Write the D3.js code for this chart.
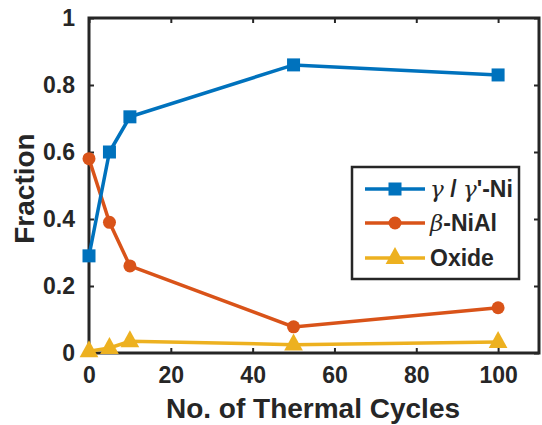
<!DOCTYPE html>
<meta charset="utf-8">
<style>
body { margin: 0; background: #fff; }
text { font-family: "Liberation Sans", Arial, Helvetica, sans-serif; font-weight: bold; fill: #262626; }
</style>
<svg width="542" height="425"></svg>
<script src="https://cdn.jsdelivr.net/npm/d3@7"></script>
<script>

// data
var cycles = [0, 5, 10, 50, 100];
var gammaNi = [0.29, 0.60, 0.705, 0.86, 0.83];
var betaNiAl = [0.58, 0.39, 0.26, 0.078, 0.135];
var oxide = [0.005, 0.015, 0.035, 0.025, 0.033];

var xTicks = [0, 20, 40, 60, 80, 100];
var yTicks = [0, 0.2, 0.4, 0.6, 0.8, 1];

var blue = "#0072BD", orange = "#D95319", yellow = "#EDB120";

var svg = d3.select("svg");
// plot box (window.top is reserved, so use plot_* names)
var plot_left = 89, plot_right = 539, plot_top = 18, plot_bottom = 353;

var x = d3.scaleLinear().domain([0, 110]).range([plot_left, plot_right]);
var y = d3.scaleLinear().domain([0, 1]).range([plot_bottom, plot_top]);

// axes, ticks pointing inward, box on
function styleAxis(g) {
  g.select(".domain").remove();
  g.selectAll("line").attr("stroke", "#262626").attr("stroke-width", 2);
  g.selectAll("text").style("font-size", "23px").attr("fill", "#262626");
}

svg.append("g").attr("transform", "translate(0," + plot_bottom + ")")
   .call(d3.axisBottom(x).tickValues(xTicks).tickSizeInner(-5).tickPadding(14).tickFormat(d3.format("d")))
   .call(styleAxis);
svg.append("g").attr("transform", "translate(0," + plot_top + ")")
   .call(d3.axisTop(x).tickValues(xTicks).tickSizeInner(-5).tickFormat(""))
   .call(styleAxis);
svg.append("g").attr("transform", "translate(" + plot_left + ",0)")
   .call(d3.axisLeft(y).tickValues(yTicks).tickSizeInner(-5).tickPadding(14).tickFormat(function(d) { return d == 0 || d == 1 ? d : d.toFixed(1); }))
   .call(styleAxis);
svg.append("g").attr("transform", "translate(" + plot_right + ",0)")
   .call(d3.axisRight(y).tickValues(yTicks).tickSizeInner(-5).tickFormat(""))
   .call(styleAxis);

svg.append("rect")
   .attr("x", plot_left).attr("y", plot_top)
   .attr("width", plot_right - plot_left).attr("height", plot_bottom - plot_top)
   .style("fill", "none").style("stroke", "#262626").style("stroke-width", 3);

// axis labels
svg.append("text")
   .attr("x", (plot_left + plot_right) / 2 - 1).attr("y", 418)
   .attr("text-anchor", "middle")
   .style("font-size", "28px")
   .text("No. of Thermal Cycles");

svg.append("text")
   .attr("transform", "translate(34," + ((plot_top + plot_bottom) / 2 + 3) + ") rotate(-90)")
   .attr("text-anchor", "middle")
   .style("font-size", "28px")
   .text("Fraction");

// series
var line = d3.line();

function tri(s) {
  return "M0," + (-s * 0.65) + "L" + s * 0.55 + "," + s * 0.35 + "L" + (-s * 0.55) + "," + s * 0.35 + "Z";
}

function drawMarker(g, kind, cx, cy, colour) {
  if (kind == "square") {
    g.append("rect").attr("x", cx - 6.5).attr("y", cy - 6.5).attr("width", 13).attr("height", 13).style("fill", colour);
  } else if (kind == "circle") {
    g.append("circle").attr("cx", cx).attr("cy", cy).attr("r", 6.5).style("fill", colour);
  } else {
    g.append("path").attr("transform", "translate(" + cx + "," + cy + ")").attr("d", tri(17)).style("fill", colour);
  }
}

function drawSeries(values, colour, kind) {
  var pts = cycles.map(function(c, i) { return [x(c), y(values[i])]; });
  var g = svg.append("g");
  g.append("path").attr("d", line(pts))
   .style("fill", "none").style("stroke", colour).style("stroke-width", 3.5);
  pts.forEach(function(p) { drawMarker(g, kind, p[0], p[1], colour); });
}

drawSeries(oxide, yellow, "triangle");
drawSeries(betaNiAl, orange, "circle");
drawSeries(gammaNi, blue, "square");

// legend
var lx = 352, ly = 167, lw = 167, lh = 112;
svg.append("rect")
   .attr("x", lx).attr("y", ly).attr("width", lw).attr("height", lh)
   .style("fill", "white").style("stroke", "#262626").style("stroke-width", 2.5);

var legendItems = [
  {colour: blue, kind: "square", sym: ["γ", " / ", "γ", "'-Ni"]},
  {colour: orange, kind: "circle", sym: ["β", "-NiAl"]},
  {colour: yellow, kind: "triangle", sym: ["Oxide"]}
];
var rowY = [189, 223, 258];

legendItems.forEach(function(item, i) {
  var ry = rowY[i];
  svg.append("line")
     .attr("x1", 365).attr("x2", 425).attr("y1", ry).attr("y2", ry)
     .style("stroke", item.colour).style("stroke-width", 3.5);
  drawMarker(svg, item.kind, 395, ry, item.colour);
  var t = svg.append("text").attr("x", 430).attr("y", ry + 8).style("font-size", "23px").attr("fill", "#000");
  item.sym.forEach(function(s) {
    var greek = s == "γ" || s == "β";
    t.append("tspan").text(s)
     .style("font-style", greek ? "italic" : "normal")
     .style("font-weight", greek ? "normal" : "bold")
     .style("font-family", greek ? "'DejaVu Serif', 'Liberation Serif', serif" : null);
  });
});

</script>
